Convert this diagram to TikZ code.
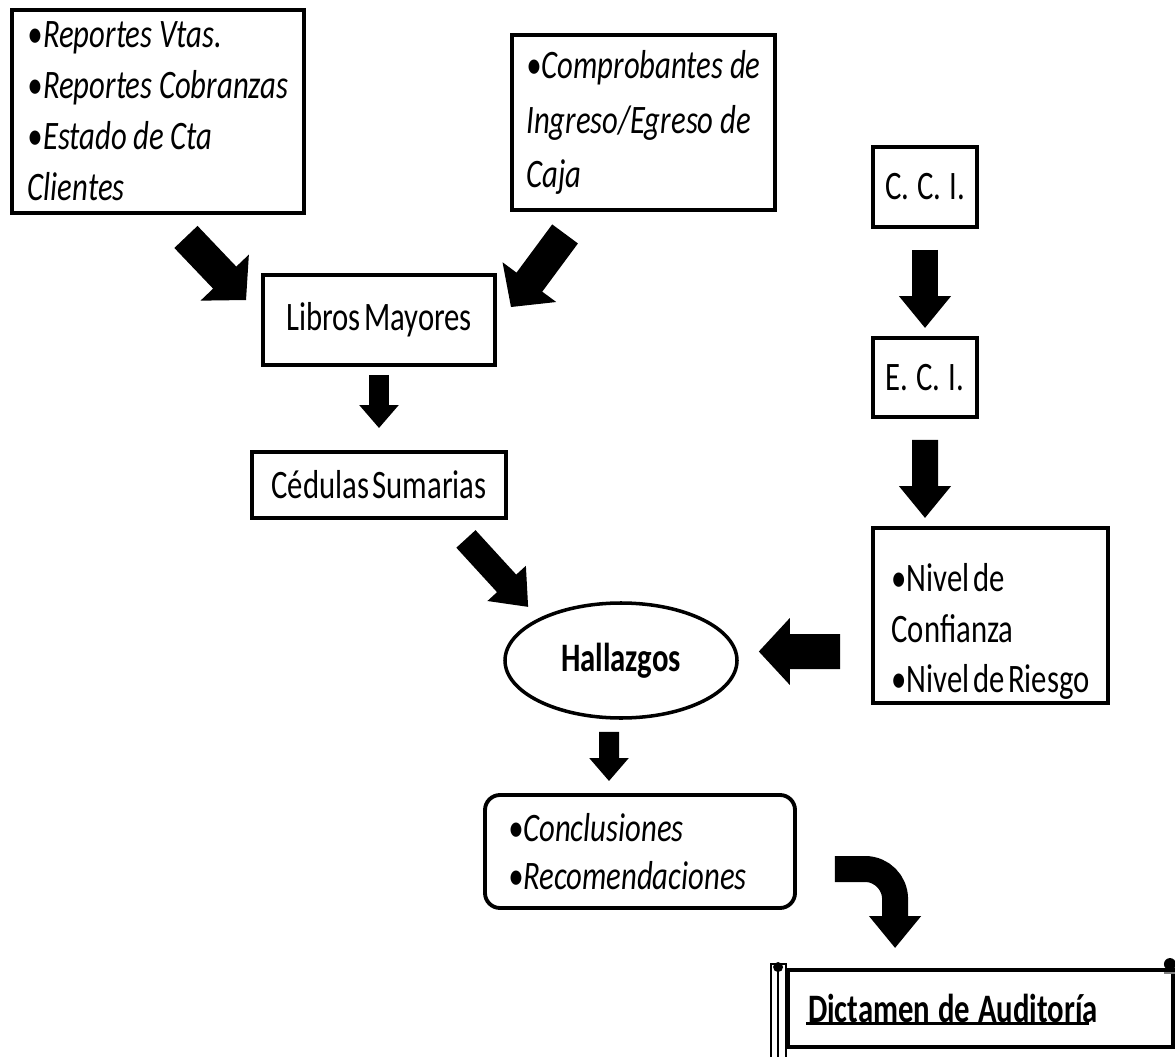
\documentclass[tikz,border=0pt]{standalone}
\usepackage{fontspec}
\setmainfont{Carlito}[FakeStretch=0.76,UprightFeatures={WordSpace=0.5},
  ItalicFeatures={WordSpace=0.95}]
\usetikzlibrary{arrows.meta,shapes.geometric,calc}

\begin{document}
\begin{tikzpicture}[
box/.style={draw,line width=2.2pt,align=left,inner sep=0pt,font=\fontsize{23}{29}\selectfont},
itbox/.style={box,font=\fontsize{23}{29}\selectfont\itshape},
bigarrow/.style={-{Triangle[length=0.62cm,width=1.3cm]},line width=0.64cm},
midarrow/.style={-{Triangle[length=0.64cm,width=1.0cm]},line width=0.52cm},
smallarrow/.style={-{Triangle[length=0.46cm,width=0.76cm]},line width=0.4cm}
]
\useasboundingbox (0,0) rectangle (23.5,-21.14);

% sources
\node[itbox,minimum width=5.84cm,minimum height=4.06cm] (reportes) at (3.16,-2.23)
  {•Reportes Vtas.\\•Reportes Cobranzas\\•Estado de Cta\\Clientes};
\node[itbox,minimum width=5.26cm,minimum height=3.5cm,font=\fontsize{23}{31}\selectfont\itshape] (comprobantes) at (12.87,-2.45)
  {•Comprobantes de\\Ingreso/Egreso de\\Caja};

\node[box,minimum width=4.64cm,minimum height=1.8cm] (libros) at (7.58,-6.4) {Libros Mayores};
\node[box,minimum width=5.08cm,minimum height=1.32cm] (cedulas) at (7.58,-9.7) {Cédulas Sumarias};

% control interno
\node[box,minimum width=2.08cm,minimum height=1.6cm] (cci) at (18.5,-3.74) {C.\hspace{0.2em}C.\hspace{0.2em}I.};
\node[box,minimum width=2.08cm,minimum height=1.58cm] (eci) at (18.5,-7.55) {E.\hspace{0.2em}C.\hspace{0.2em}I.};
\node[box,minimum width=4.7cm,minimum height=3.5cm,font=\fontsize{23}{28.5}\selectfont] (nivel) at (19.81,-12.31)
  {\rule{0pt}{1.2cm}•Nivel de\\Confianza\\•Nivel de Riesgo};

\node[ellipse,draw,line width=2pt,inner sep=0pt,minimum width=4.64cm,minimum height=2.3cm,
  font=\fontsize{23}{29}\selectfont\bfseries] (hallazgos) at (12.42,-13.21) {Hallazgos};

\node[itbox,rounded corners=0.3cm,minimum height=2.26cm,inner xsep=0.46cm,text width=5.28cm,
  font=\fontsize{23}{27}\selectfont\itshape] (concl) at (12.8,-17.03)
  {•Conclusiones\\•Recomendaciones};

\node[box,minimum height=1.54cm,inner xsep=0.4cm,text width=6.9cm,
  font=\fontsize{23}{29}\selectfont\bfseries] (dictamen) at (19.61,-20.17)
  {Dictamen\hspace{0.2em}de\hspace{0.2em}Auditoría};
\draw[line width=1.6pt] ($(dictamen.west)+(0.4,-0.3)$) -- ++(5.66,0);

% scroll ends
\draw[line width=1.6pt] ([xshift=-0.3cm,yshift=0.08cm]dictamen.north west) rectangle ([yshift=-0.5cm]dictamen.south west);
\draw[line width=1.2pt] ([xshift=-0.16cm,yshift=-0.04cm]dictamen.north west) -- ([xshift=-0.16cm,yshift=-0.5cm]dictamen.south west);
\fill ([xshift=-0.16cm,yshift=0.02cm]dictamen.north west) circle (0.1cm);
\fill ([xshift=-0.1cm,yshift=0.08cm]dictamen.north east) circle (0.12cm);
\draw[gray,line width=1.2pt] ([xshift=-0.22cm,yshift=-0.1cm]dictamen.north east) -- ([yshift=-0.1cm]dictamen.north east);

% arrows
\draw[bigarrow] ($(reportes.south east)+(-2.4,-0.44)$) -- ($(libros.north west)+(-0.3,-0.54)$);
\draw[bigarrow] ($(comprobantes.south west)+(1.1,-0.44)$) -- ($(libros.north east)+(0.28,-0.68)$);
\draw[smallarrow,shorten <=0.16cm,shorten >=0.44cm] (libros.south) -- (cedulas.north);
\draw[midarrow] ($(cedulas.south east)+(-0.84,-0.38)$) -- ($(hallazgos.west)+(0.5,1.07)$);

\draw[midarrow,shorten <=0.42cm,shorten >=0.16cm] (cci.south) -- (eci.north);
\draw[midarrow] ($(eci.south)+(0,-0.42)$) -- ($(nivel.north)+(-1.31,0.16)$);
\draw[bigarrow,line width=0.7cm] ($(nivel.west)+(-0.62,-0.72)$) -- ($(hallazgos.east)+(0.4,0.18)$);

\draw[smallarrow] ($(hallazgos.south)+(-0.24,-0.24)$) -- ($(concl.north)+(-0.62,0.24)$);
\draw[midarrow,rounded corners=0.6cm] ($(concl.east)+(0.76,-0.35)$) -| ($(dictamen.north west)+(2.18,0.4)$);

\end{tikzpicture}
\end{document}
